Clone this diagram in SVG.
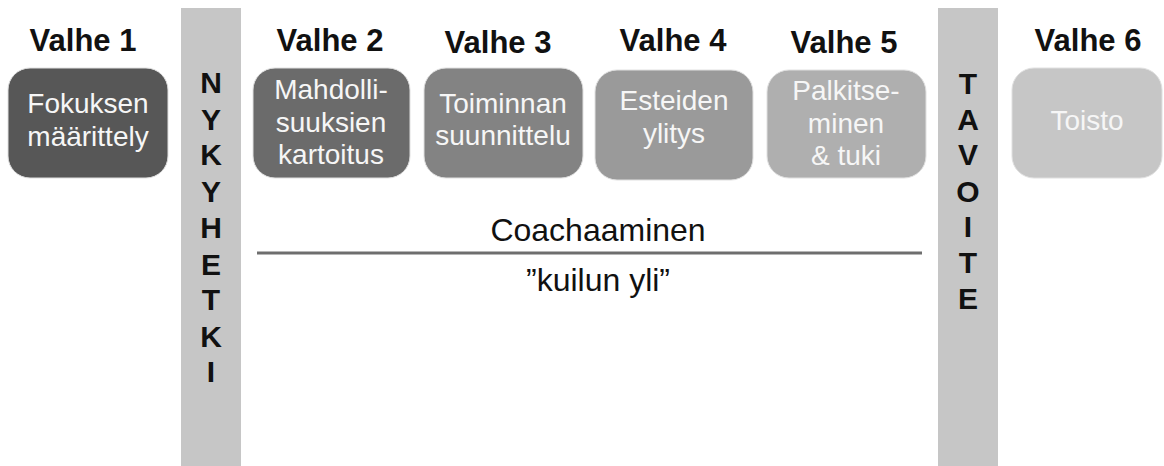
<svg xmlns="http://www.w3.org/2000/svg" width="1164" height="466" viewBox="0 0 1164 466">
  <style>
    .head { font-family: "Liberation Sans", Arial, sans-serif; font-weight: bold; font-size: 31px; fill: #111; text-anchor: middle; }
    .step rect { stroke: #e0e0e0; stroke-width: 1; }
    .step text { font-family: "Liberation Sans", Arial, sans-serif; font-size: 28px; fill: #f6f6f6; text-anchor: middle; }
    .bar rect { fill: #c6c6c6; }
    .bar text { font-family: "Liberation Sans", Arial, sans-serif; font-weight: bold; font-size: 30px; fill: #111; text-anchor: middle; }
    .label { font-family: "Liberation Sans", Arial, sans-serif; font-size: 32px; fill: #111; text-anchor: middle; }
  </style>
  <rect width="1164" height="466" fill="#ffffff"/>

  <!-- vertical markers: present moment and goal -->
  <g id="nykyhetki" class="bar">
    <rect x="181" y="8" width="60" height="458"/>
    <text x="211" y="93">N</text>
    <text x="211" y="130">Y</text>
    <text x="211" y="165">K</text>
    <text x="211" y="202">Y</text>
    <text x="211" y="238">H</text>
    <text x="211" y="275">E</text>
    <text x="211" y="310">T</text>
    <text x="211" y="347">K</text>
    <text x="211" y="382">I</text>
  </g>
  <g id="tavoite" class="bar">
    <rect x="938" y="8" width="60" height="458"/>
    <text x="968" y="94">T</text>
    <text x="968" y="130">A</text>
    <text x="968" y="165">V</text>
    <text x="968" y="202">O</text>
    <text x="968" y="237">I</text>
    <text x="968" y="273">T</text>
    <text x="968" y="309">E</text>
  </g>

  <!-- phase headings -->
  <g id="headings">
    <text class="head" x="83" y="51">Valhe 1</text>
    <text class="head" x="330" y="51">Valhe 2</text>
    <text class="head" x="498" y="53">Valhe 3</text>
    <text class="head" x="673" y="51">Valhe 4</text>
    <text class="head" x="844" y="53">Valhe 5</text>
    <text class="head" x="1088" y="51">Valhe 6</text>
  </g>

  <!-- phase boxes -->
  <g id="step1" class="step">
    <rect x="8" y="68" width="160" height="110" rx="22" fill="#575757"/>
    <text x="88" y="113">Fokuksen</text>
    <text x="88" y="146">määrittely</text>
  </g>
  <g id="step2" class="step">
    <rect x="253" y="68" width="157" height="110" rx="22" fill="#6b6b6b"/>
    <text x="331" y="99">Mahdolli-</text>
    <text x="331" y="132">suuksien</text>
    <text x="331" y="164">kartoitus</text>
  </g>
  <g id="step3" class="step">
    <rect x="424" y="68" width="159" height="110" rx="22" fill="#838383"/>
    <text x="503" y="113">Toiminnan</text>
    <text x="503" y="145">suunnittelu</text>
  </g>
  <g id="step4" class="step">
    <rect x="595" y="70" width="158" height="110" rx="22" fill="#9a9a9a"/>
    <text x="674" y="110">Esteiden</text>
    <text x="674" y="143">ylitys</text>
  </g>
  <g id="step5" class="step">
    <rect x="767" y="70" width="159" height="108" rx="22" fill="#afafaf"/>
    <text x="846" y="100">Palkitse-</text>
    <text x="846" y="133">minen</text>
    <text x="846" y="165">&amp; tuki</text>
  </g>
  <g id="step6" class="step">
    <rect x="1012" y="68" width="150" height="110" rx="22" fill="#c6c6c6"/>
    <text x="1087" y="130">Toisto</text>
  </g>

  <!-- coaching span across the gap -->
  <g id="connectors">
    <line x1="257" y1="253" x2="922" y2="253" stroke="#6e6e6e" stroke-width="3"/>
  </g>
  <g id="coaching">
    <text class="label" x="598" y="241">Coachaaminen</text>
    <text class="label" x="598" y="291">”kuilun yli”</text>
  </g>
</svg>
